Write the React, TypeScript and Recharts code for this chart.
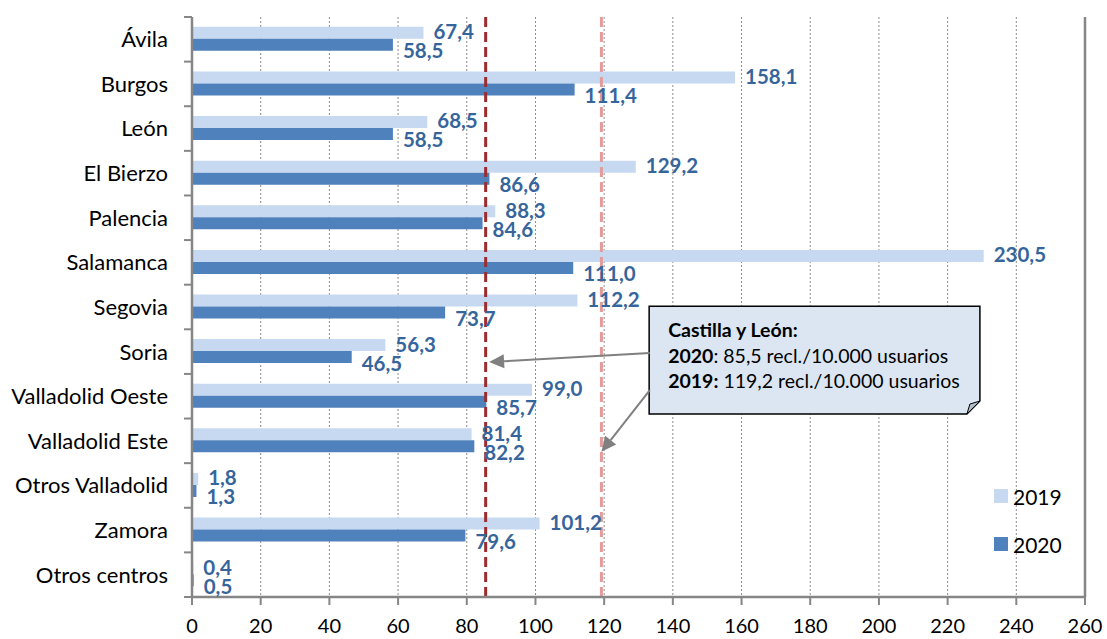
import React from 'react';
import {
  BarChart, Bar, XAxis, YAxis, CartesianGrid, ReferenceLine, ReferenceArea,
  LabelList, Legend,
} from 'recharts';

const categories = [
  'Ávila', 'Burgos', 'León', 'El Bierzo', 'Palencia', 'Salamanca', 'Segovia',
  'Soria', 'Valladolid Oeste', 'Valladolid Este', 'Otros Valladolid', 'Zamora', 'Otros centros',
];
const values2019 = [67.4, 158.1, 68.5, 129.2, 88.3, 230.5, 112.2, 56.3, 99.0, 81.4, 1.8, 101.2, 0.4];
const values2020 = [58.5, 111.4, 58.5, 86.6, 84.6, 111.0, 73.7, 46.5, 85.7, 82.2, 1.3, 79.6, 0.5];
const xTicks = [0, 20, 40, 60, 80, 100, 120, 140, 160, 180, 200, 220, 240, 260];

// media Castilla y León
const avg2020 = 85.5;
const avg2019 = 119.2;

const data = categories.map((name, i) => ({ name, v2019: values2019[i], v2020: values2020[i] }));

const LIGHT = '#c6d9f1';
const DARK = '#4f81bd';
const LABEL = '#36659c';
const AXIS = '#868686';
const FONT = 'Lato, "Open Sans", sans-serif';

const fmt = (v: number) => v.toFixed(1).replace('.', ',');

function makeLabel(dx: number, dy: number) {
  return (props: any) => {
    const { x, y, width, height, value } = props;
    return (
      <text
        x={Number(x) + Number(width) + dx}
        y={Number(y) + Number(height) / 2 + dy}
        dy="0.36em"
        fill={LABEL}
        fontSize={20.5}
        fontWeight={700}
        fontFamily={FONT}
      >
        {fmt(Number(value))}
      </text>
    );
  };
}

function CategoryTick(props: any) {
  const { x, y, payload, index } = props;
  const half = payload?.offset || 22.3;
  const axisX = x + 16 + 8;
  return (
    <g>
      <text x={x} y={y} dy="0.36em" textAnchor="end" fontSize={22} fontFamily={FONT} fill="#000">
        {payload.value}
      </text>
      {index === 0 && <line x1={axisX - 8} x2={axisX} y1={y - half} y2={y - half} stroke={AXIS} strokeWidth={2} />}
      <line x1={axisX - 8} x2={axisX} y1={y + half} y2={y + half} stroke={AXIS} strokeWidth={2} />
    </g>
  );
}

function Arrow(props: any) {
  const { x1, x2, dy1 = 0, dy2 = 0 } = props;
  const y1 = props.y1 + dy1;
  const y2 = props.y2 + dy2;
  const ang = Math.atan2(y2 - y1, x2 - x1);
  const len = 15;
  const w = 7;
  const bx = x2 - len * Math.cos(ang);
  const by = y2 - len * Math.sin(ang);
  const px = -Math.sin(ang) * w;
  const py = Math.cos(ang) * w;
  return (
    <g>
      <line x1={x1} y1={y1} x2={bx} y2={by} stroke="#808080" strokeWidth={2} />
      <polygon points={`${x2},${y2} ${bx + px},${by + py} ${bx - px},${by - py}`} fill="#808080" />
    </g>
  );
}

function Callout(props: any) {
  const { x, width, insetTop = 0, insetBottom = 0 } = props;
  const y = props.y + insetTop;
  const height = props.height - insetTop - insetBottom;
  const f = 13;
  const r = x + width;
  const b = y + height;
  return (
    <g>
      <path
        d={`M${x},${y} H${r} V${b - f} L${r - f},${b} H${x} Z`}
        fill="#dce6f2"
        stroke="#000"
        strokeWidth={1.5}
      />
      <path d={`M${r},${b - f} L${r - f + 3},${b - f + 3} L${r - f},${b} Z`} fill="#b3bdc9" stroke="#000" strokeWidth={1} />
      <text x={x + 19} y={y + 31} fontSize={19.5} fontFamily={FONT} fill="#000" fontWeight={700}>
        Castilla y León:
      </text>
      <text x={x + 19} y={y + 57} fontSize={19.5} fontFamily={FONT} fill="#000">
        <tspan fontWeight={700}>2020</tspan>: {fmt(avg2020)} recl./10.000 usuarios
      </text>
      <text x={x + 19} y={y + 82} fontSize={19.5} fontFamily={FONT} fill="#000">
        <tspan fontWeight={700}>2019:</tspan> {fmt(avg2019)} recl./10.000 usuarios
      </text>
    </g>
  );
}

function LegendBox() {
  const items = [
    { label: '2019', color: LIGHT },
    { label: '2020', color: DARK },
  ];
  return (
    <div style={{ fontFamily: FONT }}>
      {items.map((it) => (
        <div key={it.label} style={{ height: 48, display: 'flex', alignItems: 'center' }}>
          <span style={{ width: 14, height: 14, background: it.color, display: 'inline-block', marginRight: 5 }} />
          <span style={{ fontSize: 21, color: '#000' }}>{it.label}</span>
        </div>
      ))}
    </div>
  );
}

export default function App() {
  return (
    <div style={{ position: 'absolute', left: 0, top: 0, background: '#fff' }}>
      <BarChart
        width={1107}
        height={639}
        data={data}
        layout="vertical"
        margin={{ top: 17, right: 22, bottom: 0, left: 0 }}
        barCategoryGap="22%"
        barGap={0}
      >
        <CartesianGrid horizontal={false} strokeDasharray="2 2" stroke="#8c8c8c" />
        <XAxis
          type="number"
          domain={[0, 260]}
          ticks={xTicks}
          interval={0}
          height={42}
          tickSize={8}
          tickMargin={14}
          axisLine={{ stroke: AXIS, strokeWidth: 2.5 }}
          tickLine={{ stroke: AXIS, strokeWidth: 2 }}
          tick={{ fontSize: 20, fill: '#000', fontFamily: FONT }}
        />
        <XAxis
          xAxisId="top"
          orientation="top"
          type="number"
          domain={[0, 260]}
          height={0}
          tick={false}
          tickLine={false}
          axisLine={{ stroke: AXIS, strokeWidth: 2.5 }}
        />
        <YAxis
          type="category"
          dataKey="name"
          width={192}
          interval={0}
          tickSize={8}
          tickMargin={16}
          tickLine={false}
          axisLine={{ stroke: AXIS, strokeWidth: 2.5 }}
          tick={<CategoryTick />}
        />
        <ReferenceLine x={avg2019} stroke="#e39b9b" strokeWidth={3} strokeDasharray="10 5" />
        <Bar dataKey="v2019" name="2019" fill={LIGHT} isAnimationActive={false}>
          <LabelList dataKey="v2019" content={makeLabel(10, -1)} />
        </Bar>
        <Bar dataKey="v2020" name="2020" fill={DARK} isAnimationActive={false}>
          <LabelList dataKey="v2020" content={makeLabel(10, 6)} />
        </Bar>
        <ReferenceLine x={avg2020} stroke="#9b2c2f" strokeWidth={3} strokeDasharray="10 5" />
        <ReferenceLine x={260} stroke={AXIS} strokeWidth={2.5} />
        <ReferenceArea
          x1={133.1}
          x2={229.4}
          y1="Segovia"
          y2="Valladolid Oeste"
          shape={<Callout insetTop={21.5} insetBottom={4.5} />}
        />
        <ReferenceLine
          segment={[{ x: 133.3, y: 'Soria' }, { x: 86.5, y: 'Soria' }]}
          shape={<Arrow dy1={1.5} dy2={10.5} />}
        />
        <ReferenceLine
          segment={[{ x: 133.3, y: 'Valladolid Oeste' }, { x: 119.2, y: 'Valladolid Este' }]}
          shape={<Arrow dy1={-6} dy2={11} />}
        />
        <Legend
          layout="vertical"
          align="center"
          verticalAlign="middle"
          wrapperStyle={{ left: 994, top: 472, width: 100 }}
          content={<LegendBox />}
        />
      </BarChart>
    </div>
  );
}
